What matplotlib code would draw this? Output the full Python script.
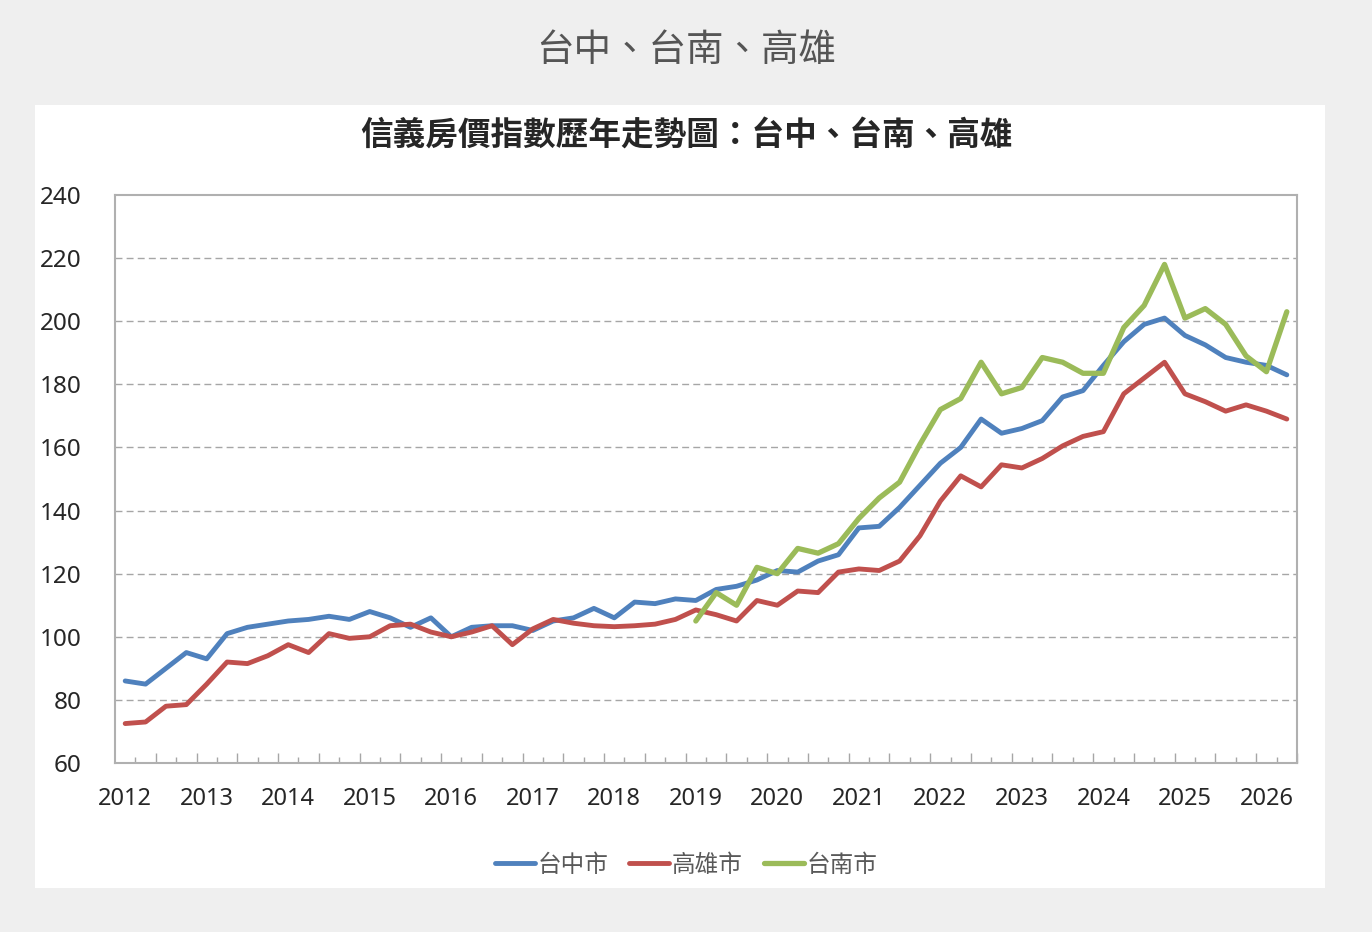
import numpy as np
import matplotlib
matplotlib.use("Agg")
import matplotlib.pyplot as plt
from matplotlib.patches import Rectangle

plt.rcParams['font.family'] = ['Noto Sans CJK TC', 'DejaVu Sans']

# quarterly index values, 2012Q1 .. 2026Q2
taichung = [86, 85, 90, 95, 93, 101, 103, 104, 105, 105.5, 106.5, 105.5,
            108, 106, 103, 106, 100, 103, 103.5, 103.5, 102, 105, 106, 109,
            106, 111, 110.5, 112, 111.5, 115, 116, 118, 121, 120.5, 124, 126,
            134.5, 135, 141, 148, 155, 160, 169, 164.5, 166, 168.5, 176, 178,
            186, 193.5, 199, 201, 195.5, 192.5, 188.5, 187, 186, 183]
kaohsiung = [72.5, 73, 78, 78.5, 85, 92, 91.5, 94, 97.5, 95, 101, 99.5,
             100, 103.5, 104, 101.5, 100, 101.5, 103.5, 97.5, 102.5, 105.5, 104.3, 103.5,
             103.2, 103.5, 104, 105.5, 108.5, 107, 105, 111.5, 110, 114.5, 114, 120.5,
             121.5, 121, 124, 132, 143, 151, 147.5, 154.5, 153.5, 156.5, 160.5, 163.5,
             165, 177, 182, 187, 177, 174.5, 171.5, 173.5, 171.5, 169]
tainan = [np.nan] * 28 + [105, 114, 110, 122, 120, 128, 126.5, 129.5,
                          137.5, 144, 149, 161, 172, 175.5, 187, 177, 179, 188.5, 187, 183.5,
                          183.5, 198, 205, 218, 201, 204, 199, 189, 184, 203]
years = ['2012', '2013', '2014', '2015', '2016', '2017', '2018', '2019',
         '2020', '2021', '2022', '2023', '2024', '2025', '2026']
series_names = ['台中市', '高雄市', '台南市']
colors = ['#4f81bd', '#c0504d', '#9bbb59']

x = np.arange(len(taichung))

fig = plt.figure(figsize=(13.72, 9.32), dpi=100)
fig.patch.set_facecolor('#efefef')
fig.patches.append(Rectangle((35/1372, 1-888/932), (1325-35)/1372, (888-105)/932,
                             transform=fig.transFigure, facecolor='white',
                             edgecolor='none', zorder=-10))

fig.text(0.5, 1-50/932, '台中、台南、高雄', ha='center', va='center',
         fontsize=27, color='#555555')
fig.text(0.5, 1-135/932, '信義房價指數歷年走勢圖：台中、台南、高雄', ha='center',
         va='center', fontsize=23.5, fontweight='bold', color='#262626')

ax = fig.add_axes([115/1372, 1-763/932, (1297-115)/1372, (763-195)/932])
ax.set_zorder(5)
ax.set_facecolor('white')

lines = []
for vals, c, lw in zip([taichung, kaohsiung, tainan], colors, [3.5, 3.5, 3.8]):
    ln, = ax.plot(x, vals, color=c, lw=lw, solid_joinstyle='round',
                  solid_capstyle='round')
    lines.append(ln)

ax.set_xlim(-0.5, len(x) - 0.5)
ax.set_ylim(60, 240)
ax.set_yticks(np.arange(60, 241, 20))
ax.tick_params(axis='y', length=0, pad=24, labelsize=17.5, labelcolor='#262626')
for lab in ax.get_yticklabels():
    lab.set_fontfamily(['Noto Sans', 'DejaVu Sans'])
for v in range(80, 240, 20):
    ax.axhline(v, color='#a6a6a6', lw=1.0, ls=(0, (5, 3)), zorder=0.5)

# year labels under every 4th quarter, taller ticks every half-year boundary
ax.set_xticks(np.arange(0, len(x), 4), years)
ax.tick_params(axis='x', which='major', length=0, pad=17, labelsize=17,
               labelcolor='#262626')
for lab in ax.get_xticklabels():
    lab.set_fontfamily(['Noto Sans', 'DejaVu Sans'])
ax.set_xticks(np.arange(1.5, len(x), 2), minor=True)
ax.tick_params(axis='x', which='minor', length=7, width=1, direction='in',
               color='#a6a6a6')
sec = ax.secondary_xaxis('bottom')
sec.set_xticks(np.arange(0.5, len(x), 2), [''] * len(np.arange(0.5, len(x), 2)))
sec.tick_params(axis='x', length=4, width=1, direction='in', color='#a6a6a6')
sec.spines['bottom'].set_visible(False)

for s in ax.spines.values():
    s.set_color('#b0b0b0')
    s.set_linewidth(1.5)

fig.legend(lines, series_names, loc='center', bbox_to_anchor=(0.5, 1-865/932),
           ncol=3, frameon=False, fontsize=17, handlelength=1.7,
           handletextpad=0.1, columnspacing=0.9, labelcolor='#595959')

fig.savefig('out.png', dpi=100, facecolor=fig.get_facecolor())
